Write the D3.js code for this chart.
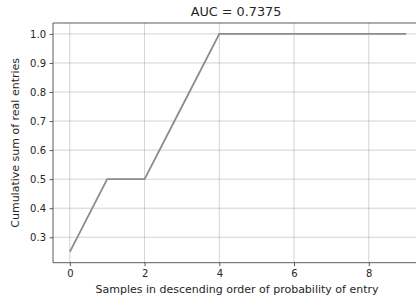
<!DOCTYPE html>
<html>
<head>
<meta charset="utf-8" />
<title>AUC chart</title>
<style>
    body { margin: 0; background: #fff; }
    text { font-family: "DejaVu Sans", sans-serif; fill: #262626; }
    .grid line { stroke: #b0b0b0; stroke-width: 0.8px; opacity: 0.7; }
    .line { fill: none; stroke: #8c8c8c; stroke-width: 1.8px; }
</style>
<script src="https://cdn.jsdelivr.net/npm/d3@7"></script>
</head>
<body>
<script>
    // data
    const samples = [0, 1, 2, 3, 4, 5, 6, 7, 8, 9];
    const cumSum = [0.25, 0.5, 0.5, 0.75, 1.0, 1.0, 1.0, 1.0, 1.0, 1.0];
    const xTicks = [0, 2, 4, 6, 8];
    const yTicks = [0.3, 0.4, 0.5, 0.6, 0.7, 0.8, 0.9, 1.0];
    const title = 'AUC = 0.7375';

    const W = 416, H = 300;
    // axes box (right edge runs past the image, like the original)
    const box = { left: 53, top: 23, right: 423, bottom: 262.7 };

    const x = d3.scaleLinear().domain([-0.45, 9.45]).range([box.left, box.right]);
    const y = d3.scaleLinear().domain([0.2125, 1.0375]).range([box.bottom, box.top]);

    const svg = d3.select('body').append('svg')
        .attr('width', W)
        .attr('height', H);

    // grid
    const grid = svg.append('g').attr('class', 'grid');
    grid.selectAll('.vx').data(xTicks).enter().append('line')
        .attr('x1', d => x(d)).attr('x2', d => x(d))
        .attr('y1', box.top).attr('y2', box.bottom);
    grid.selectAll('.hy').data(yTicks).enter().append('line')
        .attr('x1', box.left).attr('x2', box.right)
        .attr('y1', d => y(d)).attr('y2', d => y(d));

    // the line
    const line = d3.line()
        .x((d, i) => x(samples[i]))
        .y(d => y(d));
    svg.append('path')
        .datum(cumSum)
        .attr('class', 'line')
        .attr('d', line);

    // axes
    const xAxis = svg.append('g')
        .attr('transform', 'translate(0,' + box.bottom + ')')
        .call(d3.axisBottom(x).tickValues(xTicks).tickFormat(d3.format('d')).tickSizeOuter(0).tickSize(3.5).tickPadding(3.5));
    const yAxis = svg.append('g')
        .attr('transform', 'translate(' + box.left + ',0)')
        .call(d3.axisLeft(y).tickValues(yTicks).tickFormat(d3.format('.1f')).tickSizeOuter(0).tickSize(3.5).tickPadding(3.5));
    [xAxis, yAxis].forEach(a => {
        a.select('.domain').remove();
        a.selectAll('line').attr('stroke', '#333').attr('stroke-width', 0.8);
        a.selectAll('text').attr('font-family', '"DejaVu Sans", sans-serif')
            .attr('font-size', 10).attr('fill', '#262626');
    });

    // spines
    svg.append('path')
        .attr('d', 'M' + box.right + ',' + box.top + 'H' + box.left + 'V' + box.bottom + 'H' + box.right)
        .attr('fill', 'none')
        .attr('stroke', '#333')
        .attr('stroke-width', 0.8);

    // labels
    svg.append('text')
        .attr('x', 236)
        .attr('y', 16)
        .attr('text-anchor', 'middle')
        .attr('font-size', 12.8)
        .text(title);

    svg.append('text')
        .attr('x', 237)
        .attr('y', 293)
        .attr('text-anchor', 'middle')
        .attr('font-size', 11)
        .text('Samples in descending order of probability of entry');

    svg.append('text')
        .attr('transform', 'translate(19,' + ((box.top + box.bottom) / 2) + ') rotate(-90)')
        .attr('text-anchor', 'middle')
        .attr('font-size', 11)
        .text('Cumulative sum of real entries');
</script>
</body>
</html>
